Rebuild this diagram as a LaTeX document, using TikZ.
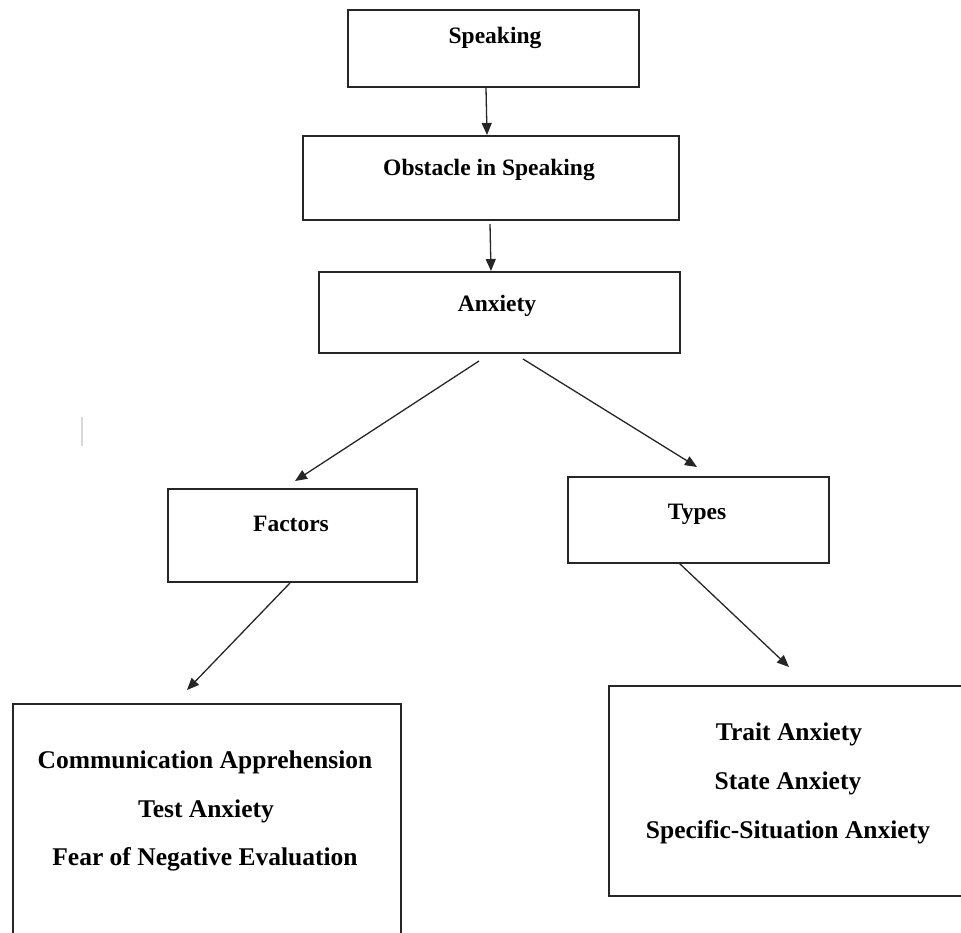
\documentclass[tikz,border=0pt]{standalone}
\usepackage{fontspec}
\setmainfont{Liberation Serif}
\usetikzlibrary{arrows.meta}
\tikzset{
  box/.style={draw=black!85, line width=1.6pt, rectangle, inner sep=0pt, outer sep=0pt, anchor=north west},
  lbl/.style={anchor=base, inner sep=0pt, font=\bfseries\fontsize{23.5}{28}\selectfont},
  lblb/.style={anchor=base, inner sep=0pt, font=\bfseries\fontsize{25.5}{30}\selectfont},
  conn/.style={draw=black!85, line width=1.3pt, -{Triangle[length=12pt,width=10pt]}}
}
\begin{document}
\begin{tikzpicture}[x=1pt,y=-1pt]
\useasboundingbox (0,0) rectangle (961,933);
\clip (0,0) rectangle (961,933);
% boxes
\node[box, minimum width=291pt, minimum height=77pt] (spk) at (348,10) {};
\node[box, minimum width=376pt, minimum height=84pt] (obs) at (303,136) {};
\node[box, minimum width=361pt, minimum height=81pt] (anx) at (319,272) {};
\node[box, minimum width=249pt, minimum height=93pt] (fac) at (168,489) {};
\node[box, minimum width=261pt, minimum height=86pt] (typ) at (568,477) {};
\node[box, minimum width=388pt, minimum height=260pt] (fbox) at (13,704) {};
\node[box, minimum width=380pt, minimum height=210pt] (tbox) at (609,686) {};
% texts
\node[lbl] (tspk) at (495,44) {Speaking};
\node[lbl] (tobs) at (489,176) {Obstacle in Speaking};
\node[lbl] (tanx) at (497,312) {Anxiety};
\node[lbl] (tfac) at (291,531) {Factors};
\node[lbl] (ttyp) at (697,519) {Types};
\node[lblb] (f1) at (205,768) {Communication Apprehension};
\node[lblb] (f2) at (206,817) {Test Anxiety};
\node[lblb] (f3) at (205,865) {Fear of Negative Evaluation};
\node[lblb] (t1) at (789,740) {Trait Anxiety};
\node[lblb] (t2) at (788,789) {State Anxiety};
\node[lblb] (t3) at (788,838) {Specific-Situation Anxiety};
% connector end points
\coordinate (a1s) at (486,88);
\coordinate (a1e) at (487,135);
\coordinate (a2s) at (490,224);
\coordinate (a2e) at (491,271);
\coordinate (a3s) at (479,361);
\coordinate (a3e) at (295,481);
\coordinate (a4s) at (523,359);
\coordinate (a4e) at (697,467);
\coordinate (a5s) at (290,583);
\coordinate (a5e) at (187,690);
\coordinate (a6s) at (679,563);
\coordinate (a6e) at (789,667);
\draw[conn] (a1s) -- (a1e);
\draw[conn] (a2s) -- (a2e);
\draw[conn] (a3s) -- (a3e);
\draw[conn] (a4s) -- (a4e);
\draw[conn] (a5s) -- (a5e);
\draw[conn] (a6s) -- (a6e);
% faint cursor mark
\coordinate (c1) at (82,417);
\coordinate (c2) at (82,446);
\draw[black!15, line width=1.2pt] (c1) -- (c2);
\end{tikzpicture}
\end{document}
